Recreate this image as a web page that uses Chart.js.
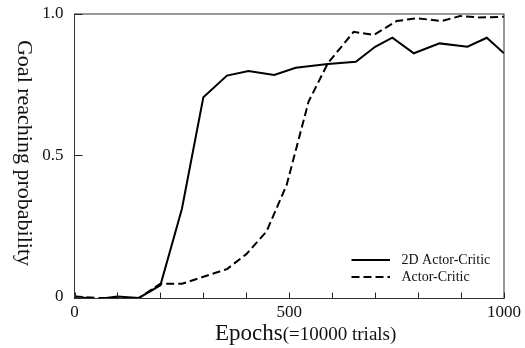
<!DOCTYPE html>
<html>
<head>
<meta charset="utf-8">
<script src="https://cdn.jsdelivr.net/npm/chart.js@4/dist/chart.umd.min.js"></script>
<style>
html,body{margin:0;padding:0;background:#fff;}
#wrap{width:525px;height:348px;position:relative;}
</style>
</head>
<body>
<div id="wrap"><canvas id="c" width="525" height="348"></canvas></div>
<script>
// ---- data ----
const epochs2D = [0, 50, 100, 150, 200, 250, 300, 355, 405, 465, 515, 590, 655, 700, 740, 790, 850, 915, 960, 1000];
const values2D = [0.0, -0.01, 0.0, -0.005, 0.04, 0.31, 0.705, 0.782, 0.798, 0.784, 0.81, 0.823, 0.831, 0.884, 0.916, 0.861, 0.896, 0.884, 0.916, 0.861];
const epochsAC = [0, 50, 100, 150, 200, 250, 355, 400, 447, 494, 545, 590, 650, 697, 750, 797, 855, 898, 940, 1000];
const valuesAC = [0.0, -0.005, -0.005, -0.005, 0.045, 0.045, 0.097, 0.15, 0.23, 0.395, 0.69, 0.826, 0.937, 0.926, 0.975, 0.985, 0.975, 0.993, 0.988, 0.99];
const seriesLabels = ["2D Actor-Critic", "Actor-Critic"];
const xTickLabels = [0, 500, 1000];
const yTickValues = [0, 0.5, 1.0];
const yTickLabels = ["0", "0.5", "1.0"];
const xTitleMain = "Epochs";
const xTitleSub = "(=10000 trials)";
const yTitle = "Goal reaching probability";

const SERIF = "'Liberation Serif', 'Times New Roman', serif";

function toPoints(xs, ys) { return xs.map((x, i) => ({x: x, y: ys[i]})); }

const framePlugin = {
  id: 'frame',
  afterDatasetsDraw(chart) {
    const {ctx, chartArea: a, scales} = chart;
    ctx.save();
    ctx.strokeStyle = '#333';
    ctx.lineWidth = 1;
    ctx.strokeRect(a.left, a.top, a.right - a.left, a.bottom - a.top);
    ctx.strokeStyle = '#222';
    ctx.lineWidth = 1;
    ctx.beginPath();
    scales.x.ticks.forEach(t => {
      const px = Math.round(scales.x.getPixelForValue(t.value)) + 0.5;
      ctx.moveTo(px, a.bottom);
      ctx.lineTo(px, a.bottom - 6);
    });
    scales.y.ticks.forEach(t => {
      const py = Math.round(scales.y.getPixelForValue(t.value)) + 0.5;
      ctx.moveTo(a.left, py);
      ctx.lineTo(a.left + 8, py);
    });
    ctx.stroke();

    // legend (inside plot, lower right)
    ctx.textBaseline = 'middle';
    ctx.textAlign = 'left';
    ctx.font = "14px " + SERIF;
    chart.data.datasets.forEach((ds, i) => {
      const y = 260 + i * 17;
      ctx.strokeStyle = ds.borderColor;
      ctx.lineWidth = ds.borderWidth;
      ctx.setLineDash(ds.borderDash || []);
      ctx.beginPath();
      ctx.moveTo(351.5, y);
      ctx.lineTo(390, y);
      ctx.stroke();
      ctx.setLineDash([]);
      ctx.fillStyle = '#111';
      ctx.fillText(ds.label, 401.5, y);
    });

    // axis titles
    ctx.fillStyle = '#111';
    ctx.textBaseline = 'alphabetic';
    ctx.font = "23px " + SERIF;
    const x0 = 215;
    ctx.fillText(xTitleMain, x0, 339.5);
    const w = ctx.measureText(xTitleMain).width;
    ctx.font = "19px " + SERIF;
    ctx.fillText(xTitleSub, x0 + w, 339.5);

    ctx.translate(24, 153);
    ctx.rotate(Math.PI / 2);
    ctx.font = "22px " + SERIF;
    ctx.textAlign = 'center';
    ctx.textBaseline = 'middle';
    ctx.fillText(yTitle, 0, 0);
    ctx.restore();
  }
};

new Chart(document.getElementById('c'), {
  type: 'line',
  data: {
    datasets: [
      {
        label: seriesLabels[0],
        data: toPoints(epochs2D, values2D),
        borderColor: '#000',
        borderWidth: 2,
        pointRadius: 0,
        tension: 0,
        fill: false
      },
      {
        label: seriesLabels[1],
        data: toPoints(epochsAC, valuesAC),
        borderColor: '#000',
        borderWidth: 2,
        borderDash: [8, 4],
        pointRadius: 0,
        tension: 0,
        fill: false
      }
    ]
  },
  options: {
    responsive: false,
    animation: false,
    devicePixelRatio: 1,
    layout: {padding: {left: 0, right: 21, top: 14, bottom: 0}},
    plugins: {legend: {display: false}, tooltip: {enabled: false}},
    scales: {
      x: {
        type: 'linear',
        min: 0, max: 1000,
        grid: {display: false, drawTicks: false},
        border: {display: false},
        afterFit(s) { s.height = 49.5; s.paddingLeft = 0; s.paddingRight = 0; },
        ticks: {
          stepSize: 100,
          autoSkip: false,
          maxRotation: 0,
          padding: 4,
          color: '#111',
          font: {family: SERIF, size: 17},
          callback: v => xTickLabels.includes(v) ? String(v) : ''
        }
      },
      y: {
        type: 'linear',
        min: -0.007, max: 1.0,
        grid: {display: false, drawTicks: false},
        border: {display: false},
        afterFit(s) { s.width = 74.5; s.paddingTop = 0; s.paddingBottom = 0; },
        afterBuildTicks(s) { s.ticks = yTickValues.map(v => ({value: v})); },
        ticks: {
          padding: 11,
          color: '#111',
          font: {family: SERIF, size: 17},
          callback: (v) => { const i = yTickValues.indexOf(v); return i >= 0 ? yTickLabels[i] : ''; }
        }
      }
    }
  },
  plugins: [framePlugin]
});
</script>
</body>
</html>
